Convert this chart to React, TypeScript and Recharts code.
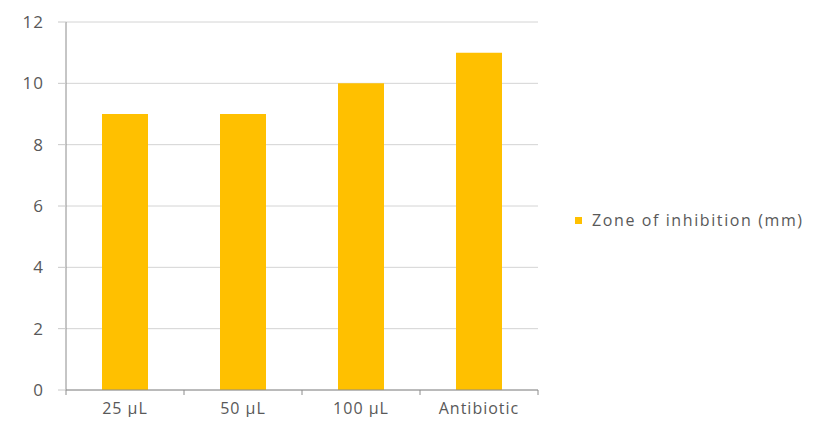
import { Bar, BarChart, CartesianGrid, Legend, XAxis, YAxis } from "recharts"

const categories = ["25 µL", "50 µL", "100 µL", "Antibiotic"]
const zoneValues = [9, 9, 10, 11]
const yTicks = [0, 2, 4, 6, 8, 10, 12]

const data = categories.map((name, i) => ({ name, zone: zoneValues[i] }))

const textColor = "#595959"
const font = "'Open Sans', 'Liberation Sans', sans-serif"

function XTick(props: any) {
  const { x, y, payload, index, visibleTicksCount } = props
  const half = payload.offset ?? 59
  const isLast = index === visibleTicksCount - 1
  return (
    <g>
      <line x1={x - half} y1={390} x2={x - half} y2={395} stroke="#8c8c8c" />
      {isLast && <line x1={x + half} y1={390} x2={x + half} y2={395} stroke="#8c8c8c" />}
      <text x={x} y={y + 16} textAnchor="middle" fill={textColor} fontSize={16} letterSpacing={1} fontFamily={font}>
        {payload.value}
      </text>
    </g>
  )
}

function LegendBox(props: any) {
  const { payload } = props
  return (
    <div style={{ fontFamily: font, fontSize: 16, letterSpacing: 1.6, color: textColor }}>
      {(payload || []).map((p: any) => (
        <div key={p.value} style={{ display: "flex", alignItems: "center", whiteSpace: "nowrap" }}>
          <span style={{ display: "inline-block", width: 7, height: 7, background: p.color, marginRight: 10 }} />
          <span>{p.value}</span>
        </div>
      ))}
    </div>
  )
}

export default function App() {
  return (
    <div style={{ margin: -8, background: "#fff", width: 815, height: 425 }}>
      <BarChart
        width={815}
        height={425}
        data={data}
        margin={{ top: 22, right: 277, bottom: 5, left: 16 }}
        barSize={46}
      >
        <CartesianGrid vertical={false} stroke="#d4d4d4" />
        <XAxis
          dataKey="name"
          axisLine={{ stroke: "#8c8c8c" }}
          tickLine={false}
          tick={<XTick />}
          height={30}
          interval={0}
        />
        <YAxis
          domain={[0, 12]}
          ticks={yTicks}
          width={50}
          axisLine={{ stroke: "#8c8c8c" }}
          tickLine={{ stroke: "#c8c8c8" }}
          tickSize={8}
          tickMargin={14}
          tick={{ fill: textColor, fontSize: 17, fontFamily: font, letterSpacing: 1 }}
        />
        <Legend
          layout="horizontal"
          verticalAlign="middle"
          align="center"
          content={<LegendBox />}
          wrapperStyle={{ left: 575, top: 209, width: 240 }}
        />
        <Bar dataKey="zone" name="Zone of inhibition (mm)" fill="#FFC000" isAnimationActive={false} />
      </BarChart>
    </div>
  )
}
